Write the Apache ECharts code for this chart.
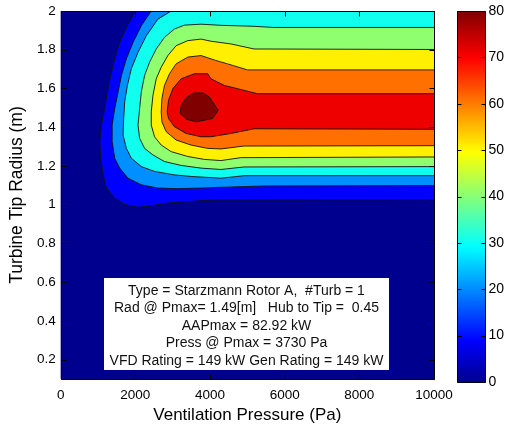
<!DOCTYPE html>
<html>
<head>
<meta charset="utf-8">
<script src="https://cdn.jsdelivr.net/npm/echarts@6/dist/echarts.min.js"></script>
<style>
html, body { margin: 0; padding: 0; background: #fff; }
#chart { width: 507px; height: 429px; }
</style>
</head>
<body>
<div id="chart"></div>
<script>
var xRange = [0, 10000];
var yRange = [0.1, 2];
var cbRange = [0, 80];
var xTicks = [0, 2000, 4000, 6000, 8000, 10000];
var yTicks = [0.2, 0.4, 0.6, 0.8, 1, 1.2, 1.4, 1.6, 1.8, 2];
var cbTicks = [0, 10, 20, 30, 40, 50, 60, 70, 80];

// contour levels (kW) and their fill colours (jet)
var levels = [10, 20, 30, 40, 50, 60, 70, 80];
var levelColors = ['#0000ff', '#008fff', '#10ffef', '#8fff70', '#ffef00', '#ff7000', '#ef0000', '#800000'];
var belowColor = '#00008f';

// colorbar gradient
var jetStops = [0, 7 / 63, 23 / 63, 39 / 63, 55 / 63, 1];
var jetColors = ['#00008f', '#0000ff', '#00ffff', '#ffff00', '#ff0000', '#800000'];

// contour outlines, [pressure (Pa), radius (m)]; points past the axes only close the shapes
var c10 = [[2008, 2.2], [2008, 2.0], [1787, 1.924], [1581, 1.838], [1448, 1.753], [1341, 1.667], [1253, 1.582],
  [1181, 1.496], [1093, 1.411], [1048, 1.326], [1075, 1.240], [1139, 1.154], [1227, 1.086], [1448, 1.035],
  [1715, 1.001], [2072, 0.987], [2339, 0.992], [2872, 1.009], [3760, 1.021], [4293, 1.025], [10600, 1.026], [10600, 2.2]];
var c20 = [[2427, 2.2], [2427, 2.0], [2160, 1.924], [1939, 1.838], [1760, 1.753], [1627, 1.667], [1539, 1.582],
  [1448, 1.496], [1379, 1.411], [1379, 1.326], [1448, 1.240], [1581, 1.189], [1805, 1.137], [2160, 1.103],
  [2605, 1.086], [3139, 1.083], [3760, 1.086], [4293, 1.090], [5500, 1.097], [10600, 1.099], [10600, 2.2]];
var c30 = [[2960, 2.2], [2960, 2.0], [2605, 1.958], [2293, 1.872], [2072, 1.787], [1893, 1.702], [1787, 1.616],
  [1715, 1.531], [1688, 1.445], [1672, 1.359], [1760, 1.291], [1893, 1.240], [2160, 1.197], [2515, 1.172],
  [3048, 1.154], [3493, 1.146], [4293, 1.137], [4915, 1.150], [10600, 1.150], [10600, 2.2]];
var c40 = [[10600, 1.915], [5700, 1.915], [5181, 1.921], [4293, 1.926], [3760, 1.932], [3315, 1.927], [3048, 1.907],
  [2781, 1.864], [2560, 1.804], [2381, 1.736], [2248, 1.667], [2160, 1.582], [2115, 1.496], [2072, 1.411],
  [2115, 1.343], [2248, 1.291], [2472, 1.257], [2781, 1.223], [3227, 1.203], [3760, 1.189], [4293, 1.182],
  [4915, 1.195], [10600, 1.197]];
var c50 = [[10600, 1.801], [5181, 1.804], [4560, 1.830], [4027, 1.844], [3760, 1.855], [3405, 1.847], [3093, 1.821],
  [2872, 1.770], [2693, 1.710], [2560, 1.650], [2472, 1.565], [2427, 1.479], [2427, 1.411], [2515, 1.351],
  [2693, 1.308], [2960, 1.274], [3405, 1.249], [3848, 1.234], [4293, 1.228], [4827, 1.243], [10600, 1.247]];
var c60 = [[10600, 1.696], [5005, 1.696], [4472, 1.727], [4150, 1.745], [3760, 1.770], [3405, 1.762], [3093, 1.727],
  [2915, 1.676], [2781, 1.616], [2712, 1.548], [2693, 1.479], [2712, 1.428], [2827, 1.377], [3093, 1.334],
  [3493, 1.308], [3939, 1.291], [4293, 1.288], [4907, 1.303], [10600, 1.305]];
var c70 = [[10600, 1.573], [5272, 1.573], [4739, 1.599], [4381, 1.616], [4027, 1.650], [3939, 1.676], [3581, 1.676],
  [3227, 1.650], [3005, 1.599], [2888, 1.539], [2853, 1.479], [2888, 1.445], [3048, 1.403], [3360, 1.368],
  [3760, 1.351], [4027, 1.351], [4560, 1.368], [5181, 1.392], [10600, 1.389]];
var c80 = [[3565, 1.577], [3832, 1.577], [3981, 1.556], [4221, 1.488], [4072, 1.445], [3627, 1.428], [3360, 1.442],
  [3200, 1.471], [3227, 1.513], [3360, 1.553]];
var contours = [c10, c20, c30, c40, c50, c60, c70, c80];

var infoLines = [
  'Type = Starzmann Rotor A,  #Turb = 1',
  'Rad @ Pmax= 1.49[m]   Hub to Tip =  0.45',
  'AAPmax = 82.92 kW',
  'Press @ Pmax = 3730 Pa',
  'VFD Rating = 149 kW Gen Rating = 149 kW'
];

var font = 'Liberation Sans, Arial, sans-serif';
var chart = echarts.init(document.getElementById('chart'));

function plainLabel(v) { return String(v); }
function px(v) { return Math.round(v) + 0.5; }

// matlab-style box with inward ticks on all four sides
function frame(api, xr, yr, xt, yt, len) {
  var a = api.coord([xr[0], yr[0]]);
  var b = api.coord([xr[1], yr[1]]);
  var l = px(a[0]), r = px(b[0]), t = px(b[1]), btm = px(a[1]);
  var kids = [{
    type: 'rect',
    shape: { x: l, y: t, width: r - l, height: btm - t },
    style: { fill: null, stroke: '#000', lineWidth: 1 }
  }];
  var ls = { stroke: '#000', lineWidth: 1 };
  xt.forEach(function (v) {
    var x = px(api.coord([v, yr[0]])[0]);
    kids.push({ type: 'line', shape: { x1: x, y1: btm, x2: x, y2: btm - len }, style: ls });
    kids.push({ type: 'line', shape: { x1: x, y1: t, x2: x, y2: t + len }, style: ls });
  });
  yt.forEach(function (v) {
    var y = px(api.coord([xr[0], v])[1]);
    kids.push({ type: 'line', shape: { x1: l, y1: y, x2: l + len, y2: y }, style: ls });
    kids.push({ type: 'line', shape: { x1: r, y1: y, x2: r - len, y2: y }, style: ls });
  });
  return { type: 'group', children: kids };
}

function labelAxis(extra) {
  var a = {
    type: 'value',
    axisLine: { show: false },
    axisTick: { show: false },
    axisLabel: { show: false },
    splitLine: { show: false }
  };
  for (var k in extra) a[k] = extra[k];
  return a;
}

var option = {
  animation: false,
  textStyle: { fontFamily: font },
  grid: [
    { left: 59, top: 11, width: 375, height: 371, show: true, backgroundColor: belowColor, borderWidth: 0 },
    { left: 457, top: 11, width: 29, height: 371, show: false }
  ],
  xAxis: [
    labelAxis({
      gridIndex: 0, min: xRange[0], max: xRange[1], position: 'bottom',
      axisLabel: { show: true, customValues: xTicks, formatter: plainLabel, color: '#000', fontSize: 13.5, margin: 9, fontFamily: font },
      name: 'Ventilation Pressure (Pa)', nameLocation: 'middle', nameGap: 27,
      nameTextStyle: { color: '#000', fontSize: 17, fontFamily: font }
    }),
    labelAxis({ gridIndex: 1, min: 0, max: 1, position: 'bottom' })
  ],
  yAxis: [
    labelAxis({
      gridIndex: 0, min: yRange[0], max: yRange[1], position: 'left',
      axisLabel: { show: true, customValues: yTicks, formatter: plainLabel, color: '#000', fontSize: 13.5, margin: 5, fontFamily: font },
      name: 'Turbine Tip Radius (m)', nameLocation: 'middle', nameGap: 33,
      nameTextStyle: { color: '#000', fontSize: 17.5, fontFamily: font }
    }),
    labelAxis({
      gridIndex: 1, min: cbRange[0], max: cbRange[1], position: 'right',
      axisLabel: { show: true, customValues: cbTicks, formatter: plainLabel, color: '#000', fontSize: 14, margin: 3, fontFamily: font }
    })
  ],
  series: [
    {
      type: 'custom',
      xAxisIndex: 0,
      yAxisIndex: 0,
      clip: true,
      data: levels,
      renderItem: function (params, api) {
        var pts = contours[params.dataIndex].map(function (p) { return api.coord(p); });
        return {
          type: 'polygon',
          shape: { points: pts },
          style: { fill: levelColors[params.dataIndex], stroke: '#111', lineWidth: 0.9 }
        };
      }
    },
    {
      type: 'custom',
      xAxisIndex: 0,
      yAxisIndex: 0,
      z: 5,
      clip: false,
      data: [0],
      renderItem: function (params, api) {
        return frame(api, xRange, yRange, xTicks, yTicks, 5);
      }
    },
    {
      type: 'custom',
      xAxisIndex: 1,
      yAxisIndex: 1,
      clip: true,
      data: [0],
      renderItem: function (params, api) {
        var a = api.coord([0, cbRange[0]]);
        var b = api.coord([1, cbRange[1]]);
        return {
          type: 'rect',
          shape: { x: a[0], y: b[1], width: b[0] - a[0], height: a[1] - b[1] },
          style: {
            fill: new echarts.graphic.LinearGradient(0, 1, 0, 0, jetStops.map(function (s, i) {
              return { offset: s, color: jetColors[i] };
            }))
          }
        };
      }
    },
    {
      type: 'custom',
      xAxisIndex: 1,
      yAxisIndex: 1,
      z: 5,
      clip: false,
      data: [0],
      renderItem: function (params, api) {
        return frame(api, [0, 1], cbRange, [], cbTicks, 4);
      }
    }
  ],
  graphic: [
    {
      type: 'group',
      left: 104,
      top: 278,
      children: [
        { type: 'rect', shape: { x: 0, y: 0, width: 285, height: 92 }, style: { fill: '#fff' } },
        {
          type: 'text',
          x: 142.5,
          y: 4,
          style: {
            text: infoLines.join('\n'),
            fill: '#111',
            font: '14px ' + font,
            align: 'center',
            verticalAlign: 'top',
            lineHeight: 17.5
          }
        }
      ]
    }
  ]
};

chart.setOption(option);
</script>
</body>
</html>
